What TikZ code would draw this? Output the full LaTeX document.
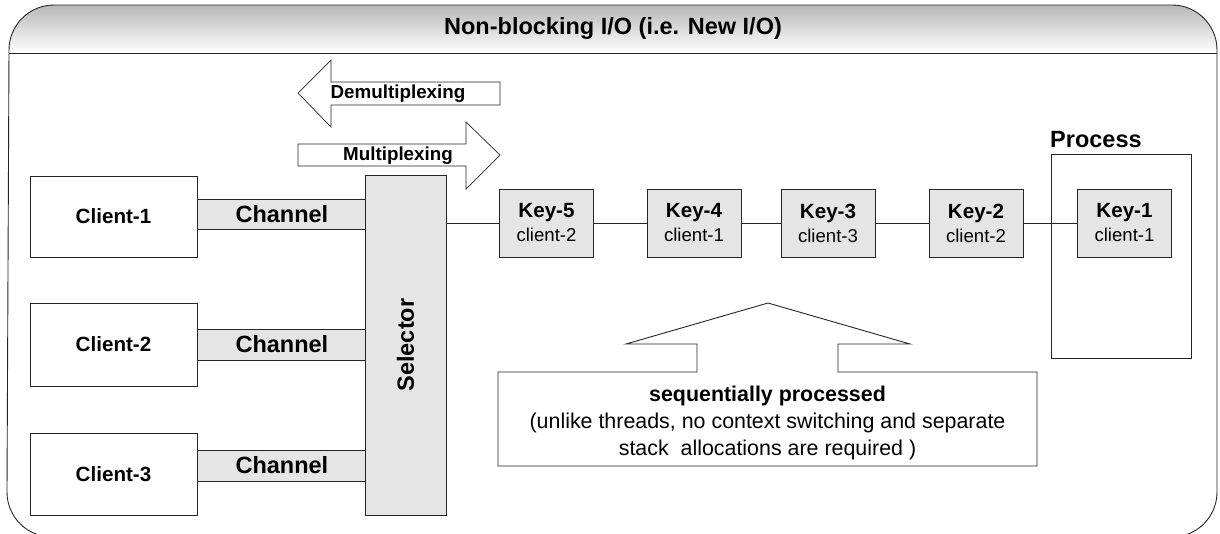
\documentclass[tikz,border=0pt]{standalone}
\usepackage{fontspec}
\setmainfont{Liberation Sans}
\begin{document}
\begin{tikzpicture}[x=1pt,y=-1pt,
  ln/.style={draw=black!85,line width=0.9pt},
  whitebox/.style={ln,fill=white,inner sep=0pt},
  graybox/.style={ln,fill=black!10,inner sep=0pt},
  fA/.style={font=\fontsize{23.5}{26}\selectfont\bfseries},
  fB/.style={font=\fontsize{20.6}{24}\selectfont\bfseries},
  fC/.style={font=\fontsize{18.8}{22}\selectfont\bfseries},
  keylbl/.style={graybox,minimum width=94pt,minimum height=68pt,align=center,font=\fontsize{18.6}{24}\selectfont}
]
\useasboundingbox (0,0) rectangle (1220,533);
\clip (0,0) rectangle (1220,533);
% outer frame
\path[top color=black!28,bottom color=white]
  (9,53) -- (9,50) arc[start angle=180,end angle=270,radius=45] -- (1172,5)
  arc[start angle=270,end angle=360,radius=45] -- (1217,53) -- cycle;
\draw[ln] (9,53) -- (1217,53);
\draw[ln] (52,537) arc[start angle=90,end angle=180,radius=45] -- (9,50)
  arc[start angle=180,end angle=270,radius=45] -- (1172,5)
  arc[start angle=270,end angle=360,radius=45] -- (1217,492)
  arc[start angle=0,end angle=90,radius=45] -- cycle;
\node[fA] (title) at (613,28) {Non-blocking I/O (i.e. New I/O)};

% arrows
\draw[ln,fill=white,line width=0.7pt] (298,93) -- (331,60) -- (331,82) -- (500,82) -- (500,105) -- (331,105) -- (331,127) -- cycle;
\node[fC] (demux) at (398,94) {Demultiplexing};
\draw[ln,fill=white,line width=0.7pt] (298,144) -- (466,144) -- (466,122) -- (500,155) -- (466,189) -- (466,166) -- (298,166) -- cycle;
\node[fC] (mux) at (398,156) {Multiplexing};

% clients
\node[whitebox,fB,minimum width=167pt,minimum height=81pt] (c1) at (113.5,216.5) {Client-1};
\node[whitebox,fB,minimum width=167pt,minimum height=83pt] (c2) at (113.5,344.5) {Client-2};
\node[whitebox,fB,minimum width=167pt,minimum height=82pt] (c3) at (113.5,474) {Client-3};

% selector
\node[graybox,minimum width=81pt,minimum height=340pt] (sel) at (405.5,345) {};
\node[fA,rotate=90] (sellbl) at (sel.center) {Selector};

% channels
\node[graybox,fA,minimum width=168pt,minimum height=30pt,anchor=west] (ch1) at (c1.east |- 0,214) {Channel};
\node[graybox,fA,minimum width=168pt,minimum height=31pt,anchor=west] (ch2) at (c2.east |- 0,344.5) {Channel};
\node[graybox,fA,minimum width=168pt,minimum height=31pt,anchor=west] (ch3) at (c3.east |- 0,465.5) {Channel};

% process box
\node[whitebox,minimum width=140pt,minimum height=204pt] (proc) at (1121,256) {};
\node[fA,anchor=base west,inner sep=0pt] (proclbl) at (1050,147) {Process};

% keys
\node[keylbl] (k5) at (546.5,223) {\textbf{\fontsize{20.6}{24}\selectfont Key-5}\\client-2};
\node[keylbl] (k4) at (694,223) {\textbf{\fontsize{20.6}{24}\selectfont Key-4}\\client-1};
\node[keylbl] (k3) at (828,223) {\textbf{\fontsize{20.6}{24}\selectfont Key-3}\\client-3};
\node[keylbl] (k2) at (976,223) {\textbf{\fontsize{20.6}{24}\selectfont Key-2}\\client-2};
\node[keylbl] (k1) at (1124.5,223) {\textbf{\fontsize{20.6}{24}\selectfont Key-1}\\client-1};
\draw[ln] (k5.west -| sel.east) -- (k5.west);
\draw[ln] (k5) -- (k4);
\draw[ln] (k4) -- (k3);
\draw[ln] (k3) -- (k2);
\draw[ln] (k2) -- (k1);

% big up arrow callout
\draw[ln,fill=white] (498,372) -- (697,372) -- (697,344) -- (626,344) -- (768,303) -- (910,344) -- (838,344) -- (838,372) -- (1037,372) -- (1037,466) -- (498,466) -- cycle;
\node[align=center,font=\fontsize{21.4}{27}\selectfont] (note) at (767.5,423) {\textbf{sequentially processed}\\(unlike threads, no context switching and separate\\stack\ \ allocations are required )};
\end{tikzpicture}
\end{document}
